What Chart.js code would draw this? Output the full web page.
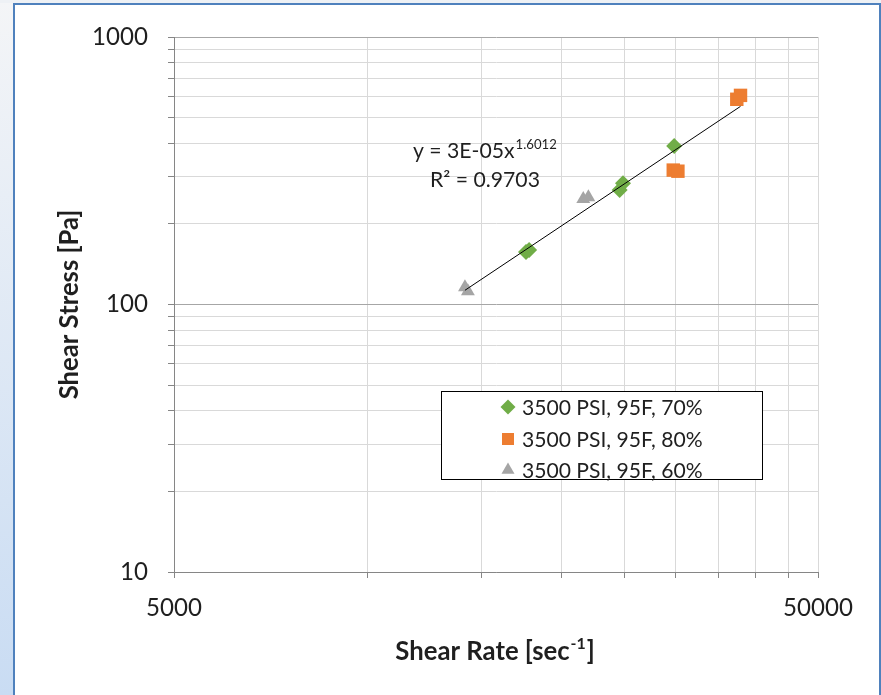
<!DOCTYPE html>
<html>
<head>
<meta charset="utf-8">
<script src="https://cdn.jsdelivr.net/npm/chart.js@4/dist/chart.umd.min.js"></script>
<style>
html, body { margin: 0; padding: 0; width: 881px; height: 695px; overflow: hidden; background: #fff; }
#strip { position: absolute; left: 0; top: 0; width: 13px; height: 695px; background: linear-gradient(#f4f5f7, #c9dcf3); }
#topstrip { position: absolute; left: 0; top: 0; width: 881px; height: 3px; background: #eef1f5; }
#frame { position: absolute; left: 13px; top: 3px; width: 868px; height: 720px; box-sizing: border-box;
  border: 2px solid #4f81bd; border-bottom: none; background: #fff; }
#wrap { position: absolute; left: 0; top: 0; width: 881px; height: 695px; }
</style>
</head>
<body>
<div id="strip"></div>
<div id="topstrip"></div>
<div id="frame"></div>
<div id="wrap"><canvas id="c" width="881" height="695"></canvas></div>
<script>
// values: shear rate [1/s] and shear stress [Pa]
const rate70 = [17600, 17800, 24600, 24900, 29900];
const stress70 = [157, 160, 268, 284, 391];
const rate80 = [29800, 30300, 37400, 37900];
const stress80 = [318, 315, 585, 605];
const rate60 = [14150, 14300, 21600, 22000];
const stress60 = [116, 112, 248, 252];

const seriesNames = ['3500 PSI, 95F, 70%', '3500 PSI, 95F, 80%', '3500 PSI, 95F, 60%'];
const seriesColors = ['#70ad47', '#ed7d31', '#a5a5a5'];
const seriesStyles = ['rectRot', 'rect', 'triangle'];

const xGridTicks = [5000, 10000, 15000, 20000, 25000, 30000, 35000, 40000, 45000, 50000];
const xLabelTicks = [5000, 50000];
const yGridTicks = [10, 20, 30, 40, 50, 60, 70, 80, 90, 100, 200, 300, 400, 500, 600, 700, 800, 900, 1000];
const yLabelTicks = [10, 100, 1000];

const xTitle = 'Shear Rate [sec';
const xTitleSup = '-1';
const yTitle = 'Shear Stress [Pa]';
const trendText = 'y = 3E-05x';
const trendSup = '1.6012';
const r2Text = 'R\u00b2 = 0.9703';

const FONT = 'Lato, "Open Sans", sans-serif';
const TEXT = '#1f1f1f';

// pick a font size so a text gets the width it has in the picture
const mctx = document.createElement('canvas').getContext('2d');
function fitSize(text, width, weight) {
  mctx.font = (weight || 'normal') + ' 100px ' + FONT;
  return Math.round(1000 * width / mctx.measureText(text).width) / 10;
}
const tickSize = fitSize('1000', 56);
const titleSize = fitSize(yTitle, 190, 'bold');
const legendSize = fitSize(seriesNames[0], 181);
const trendSize = fitSize(r2Text, 110);

// power-law trendline: least squares in log-log space over all points
const allX = rate70.concat(rate80, rate60);
const allY = stress70.concat(stress80, stress60);
const lx = allX.map(Math.log), ly = allY.map(Math.log);
const n = lx.length;
const mx = lx.reduce((a, b) => a + b, 0) / n;
const my = ly.reduce((a, b) => a + b, 0) / n;
let sxy = 0, sxx = 0;
for (let i = 0; i < n; i++) { sxy += (lx[i] - mx) * (ly[i] - my); sxx += (lx[i] - mx) ** 2; }
const slope = sxy / sxx;
const coef = Math.exp(my - slope * mx);
const trendX = [Math.min(...allX), Math.max(...allX)];
const trendPts = trendX.map(x => ({ x: x, y: coef * Math.pow(x, slope) }));

const pts = (xs, ys) => xs.map((x, i) => ({ x: x, y: ys[i] }));

function drawSup(ctx, base, sup, x, y, size, weight, align) {
  ctx.font = weight + ' ' + size + 'px ' + FONT;
  const wb = ctx.measureText(base).width;
  ctx.font = weight + ' ' + (size * 0.62) + 'px ' + FONT;
  const ws = ctx.measureText(sup).width;
  let x0 = x;
  if (align === 'center') x0 = x - (wb + ws) / 2;
  ctx.textAlign = 'left';
  ctx.textBaseline = 'alphabetic';
  ctx.font = weight + ' ' + size + 'px ' + FONT;
  ctx.fillText(base, x0, y);
  ctx.font = weight + ' ' + (size * 0.62) + 'px ' + FONT;
  ctx.fillText(sup, x0 + wb + 1, y - size * 0.42);
  return x0 + wb + 1 + ws;
}

const overlay = {
  id: 'overlay',
  afterDraw(chart) {
    const ctx = chart.ctx;
    ctx.save();
    ctx.fillStyle = TEXT;

    // trendline equation
    drawSup(ctx, trendText, trendSup, 413, 158, trendSize, 'normal', 'left');
    ctx.font = trendSize + 'px ' + FONT;
    ctx.textAlign = 'left';
    ctx.fillText(r2Text, 430, 187);

    // x axis title with superscript
    ctx.fillStyle = TEXT;
    const endX = drawSup(ctx, xTitle, xTitleSup, 490, 660, titleSize, 'bold', 'center');
    ctx.font = 'bold ' + titleSize + 'px ' + FONT;
    ctx.fillText(']', endX + 1, 660);

    // legend box
    ctx.fillStyle = '#fff';
    ctx.fillRect(441, 391, 322, 89);
    ctx.strokeStyle = '#000';
    ctx.lineWidth = 1;
    ctx.strokeRect(441.5, 391.5, 321, 88);
    const rows = [407, 439, 470];
    seriesNames.forEach((name, i) => {
      ctx.fillStyle = seriesColors[i];
      ctx.strokeStyle = seriesColors[i];
      Chart.helpers.drawPoint(ctx, { pointStyle: seriesStyles[i], radius: i === 1 ? 8.5 : 7.5, rotation: 0, borderWidth: 0 }, 508, rows[i]);
      ctx.fillStyle = TEXT;
      ctx.font = legendSize + 'px ' + FONT;
      ctx.textAlign = 'left';
      ctx.textBaseline = 'middle';
      ctx.fillText(name, 522, rows[i] + 1);
    });
    ctx.restore();
  }
};

const markerBase = (i, r) => ({
  label: seriesNames[i],
  backgroundColor: seriesColors[i],
  borderColor: seriesColors[i],
  borderWidth: 0,
  pointStyle: seriesStyles[i],
  pointRadius: r,
  showLine: false,
  order: 1
});

new Chart(document.getElementById('c'), {
  type: 'scatter',
  data: {
    datasets: [
      Object.assign(markerBase(0, 8), { data: pts(rate70, stress70) }),
      Object.assign(markerBase(1, 9.5), { data: pts(rate80, stress80) }),
      Object.assign(markerBase(2, 8), { data: pts(rate60, stress60) }),
      {
        label: 'trend',
        data: trendPts,
        showLine: true,
        borderColor: '#000',
        borderWidth: 1,
        pointRadius: 0,
        order: 0
      }
    ]
  },
  options: {
    responsive: false,
    animation: false,
    layout: { padding: { left: 0, top: 37, right: 63, bottom: 0 } },
    plugins: { legend: { display: false }, tooltip: { enabled: false } },
    scales: {
      x: {
        type: 'logarithmic',
        position: 'bottom',
        min: 5000,
        max: 50000,
        afterBuildTicks: s => { s.ticks = xGridTicks.map(v => ({ value: v })); },
        afterFit: s => { s.height = 123; },
        ticks: {
          autoSkip: false,
          maxRotation: 0,
          padding: 16,
          color: TEXT,
          font: { family: FONT, size: tickSize },
          callback: v => (xLabelTicks.includes(v) ? String(v) : '')
        },
        grid: { color: '#d9d9d9', tickColor: '#868686', tickLength: 6 },
        border: { color: '#868686', width: 1 }
      },
      y: {
        type: 'logarithmic',
        position: 'left',
        min: 10,
        max: 1000,
        afterBuildTicks: s => { s.ticks = yGridTicks.map(v => ({ value: v })); },
        afterFit: s => { s.width = 174; },
        title: {
          display: true,
          text: yTitle,
          color: TEXT,
          font: { family: FONT, size: titleSize, weight: 'bold' },
          padding: { top: 54, bottom: 0 }
        },
        ticks: {
          autoSkip: false,
          padding: 20,
          color: TEXT,
          font: { family: FONT, size: tickSize },
          callback: v => (yLabelTicks.includes(v) ? String(v) : '')
        },
        grid: {
          color: c => (c.tick && yLabelTicks.includes(c.tick.value) ? '#a6a6a6' : '#d9d9d9'),
          tickColor: '#868686',
          tickLength: 6
        },
        border: { color: '#868686', width: 1 }
      }
    }
  },
  plugins: [overlay]
});
</script>
</body>
</html>
